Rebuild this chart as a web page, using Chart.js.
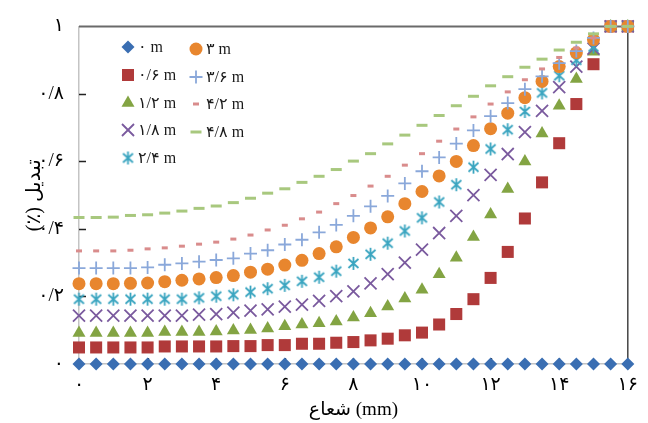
<!DOCTYPE html>
<html>
<head>
<meta charset="utf-8">
<script src="https://cdn.jsdelivr.net/npm/chart.js@4.4.1/dist/chart.umd.min.js"></script>
<style>
  html, body { margin: 0; padding: 0; background: #fff; }
  #wrap { width: 648px; height: 423px; }
</style>
</head>
<body>
<div id="wrap"><canvas id="myChart" width="648" height="423"></canvas></div>
<script>
// radius (mm), step 0.5
var radius = [0, 0.5, 1, 1.5, 2, 2.5, 3, 3.5, 4, 4.5, 5, 5.5, 6, 6.5, 7, 7.5, 8,
  8.5, 9, 9.5, 10, 10.5, 11, 11.5, 12, 12.5, 13, 13.5, 14, 14.5, 15, 15.5, 16];

var d00 = [0, 0, 0, 0, 0, 0, 0, 0, 0, 0, 0, 0, 0, 0, 0, 0, 0,
  0, 0, 0, 0, 0, 0, 0, 0, 0, 0, 0, 0, 0, 0, 0, 0];
var d06 = [0.049, 0.049, 0.049, 0.049, 0.049, 0.052, 0.052, 0.052, 0.052, 0.053, 0.053,
  0.056, 0.056, 0.060, 0.060, 0.063, 0.065, 0.070, 0.075, 0.085, 0.093,
  0.117, 0.148, 0.192, 0.255, 0.332, 0.431, 0.538, 0.654, 0.770, 0.888, 1, 1];
var d12 = [0.092, 0.092, 0.092, 0.092, 0.092, 0.095, 0.095, 0.095, 0.096, 0.099, 0.101,
  0.105, 0.112, 0.117, 0.121, 0.126, 0.138, 0.150, 0.170, 0.194, 0.220,
  0.266, 0.315, 0.376, 0.443, 0.518, 0.600, 0.683, 0.765, 0.844, 0.925, 1, 1];
var d18 = [0.143, 0.143, 0.143, 0.143, 0.143, 0.143, 0.143, 0.146, 0.148, 0.152, 0.158,
  0.162, 0.170, 0.176, 0.187, 0.201, 0.215, 0.239, 0.266, 0.300, 0.339,
  0.388, 0.439, 0.500, 0.560, 0.622, 0.687, 0.750, 0.820, 0.881, 0.934, 1, 1];
var d24 = [0.192, 0.192, 0.192, 0.192, 0.192, 0.192, 0.192, 0.196, 0.201, 0.205, 0.213,
  0.223, 0.233, 0.245, 0.257, 0.275, 0.298, 0.325, 0.358, 0.394, 0.433,
  0.480, 0.531, 0.583, 0.637, 0.694, 0.748, 0.803, 0.854, 0.900, 0.939, 1, 1];
var d30 = [0.238, 0.238, 0.238, 0.239, 0.240, 0.244, 0.248, 0.252, 0.256, 0.262, 0.272,
  0.281, 0.293, 0.307, 0.327, 0.347, 0.375, 0.403, 0.436, 0.475, 0.511,
  0.557, 0.600, 0.647, 0.697, 0.743, 0.789, 0.837, 0.881, 0.922, 0.961, 1, 1];
var d36 = [0.284, 0.284, 0.284, 0.284, 0.286, 0.294, 0.298, 0.303, 0.308, 0.313, 0.327,
  0.337, 0.354, 0.368, 0.390, 0.412, 0.439, 0.467, 0.498, 0.535, 0.571,
  0.612, 0.653, 0.692, 0.734, 0.773, 0.814, 0.852, 0.891, 0.927, 0.966, 1, 1];
var d42 = [0.335, 0.335, 0.335, 0.337, 0.341, 0.344, 0.349, 0.355, 0.361, 0.370, 0.382,
  0.397, 0.411, 0.430, 0.450, 0.475, 0.499, 0.527, 0.556, 0.589, 0.623,
  0.660, 0.696, 0.732, 0.770, 0.806, 0.842, 0.874, 0.908, 0.936, 0.966, 1, 1];
var d48 = [0.434, 0.434, 0.435, 0.440, 0.442, 0.447, 0.453, 0.461, 0.468, 0.478, 0.491,
  0.506, 0.519, 0.538, 0.556, 0.576, 0.601, 0.623, 0.652, 0.678, 0.707,
  0.736, 0.765, 0.793, 0.824, 0.851, 0.879, 0.903, 0.930, 0.953, 0.978, 1, 1];

var seriesNames = ['۰ m', '۰/۶ m', '۱/۲ m', '۱/۸ m', '۲/۴ m', '۳ m', '۳/۶ m', '۴/۲ m', '۴/۸ m'];
var xTickLabels = ['۰', '۲', '۴', '۶', '۸', '۱۰', '۱۲', '۱۴', '۱۶'];
var yTickLabels = ['۰', '۰/۲', '۰/۴', '۰/۶', '۰/۸', '۱'];

var FONT = "'Liberation Serif', 'DejaVu Sans', serif";

function makeAsterisk(color) {
  var c = document.createElement('canvas');
  c.width = 15;
  c.height = 15;
  var g = c.getContext('2d');
  g.strokeStyle = color;
  g.lineWidth = 1.8;
  g.beginPath();
  g.moveTo(7.5, 1); g.lineTo(7.5, 14);
  g.moveTo(2.5, 3); g.lineTo(12.5, 12);
  g.moveTo(12.5, 3); g.lineTo(2.5, 12);
  g.stroke();
  return c;
}

var styles = [
  { color: '#3A6EB2', pointStyle: 'rectRot', r: 6.5, bw: 0 },
  { color: '#B03A3A', pointStyle: 'rect', r: 8.5, bw: 0 },
  { color: '#83A443', pointStyle: 'triangle', r: 7.5, bw: 0 },
  { color: '#7A5A9E', pointStyle: 'crossRot', r: 8.5, bw: 1.8 },
  { color: '#3AA5C0', pointStyle: makeAsterisk('#3AA5C0'), r: 7, bw: 0 },
  { color: '#E8862E', pointStyle: 'circle', r: 6.5, bw: 0 },
  { color: '#8AA8DA', pointStyle: 'cross', r: 6.5, bw: 1.8 },
  { color: '#D98C8C', pointStyle: 'line', r: 3, bw: 3 },
  { color: '#A8C87E', pointStyle: 'line', r: 5.5, bw: 3 }
];

var allSeries = [d00, d06, d12, d18, d24, d30, d36, d42, d48];

function toPoints(ys) {
  return radius.map(function (x, i) { return { x: x, y: ys[i] }; });
}

var datasets = [];
for (var i = 0; i < allSeries.length; i++) {
  var s = styles[i];
  datasets.push({
    label: seriesNames[i],
    data: toPoints(allSeries[i]),
    showLine: false,
    pointStyle: s.pointStyle,
    pointRadius: s.r,
    pointHoverRadius: s.r,
    pointBackgroundColor: s.color,
    pointBorderColor: s.color,
    pointBorderWidth: s.bw,
    backgroundColor: s.color,
    borderColor: s.color,
    clip: false,
    order: allSeries.length - i  // later series drawn on top
  });
}

// frame on top/right and inside tick marks
var framePlugin = {
  id: 'frame',
  beforeDatasetsDraw: function (chart) {
    var ctx = chart.ctx, a = chart.chartArea;
    var xs = chart.scales.x, ys = chart.scales.y;
    ctx.save();
    ctx.strokeStyle = '#6a6a6a';
    ctx.lineWidth = 2;
    ctx.beginPath();
    ctx.moveTo(a.left, a.top);
    ctx.lineTo(a.right, a.top);
    ctx.stroke();
    ctx.strokeStyle = '#444';
    ctx.lineWidth = 1.5;
    ctx.beginPath();
    ctx.moveTo(a.right, a.top);
    ctx.lineTo(a.right, a.bottom);
    ctx.stroke();
    ctx.strokeStyle = '#222';
    ctx.lineWidth = 1.3;
    ctx.beginPath();
    xs.ticks.forEach(function (t) {
      if (t.value <= 0 || t.value >= 16) return;
      var px = Math.round(xs.getPixelForValue(t.value)) + 0.5;
      ctx.moveTo(px, a.bottom);
      ctx.lineTo(px, a.bottom - 6);
    });
    ys.ticks.forEach(function (t) {
      if (t.value <= 0 || t.value >= 1) return;
      var py = Math.round(ys.getPixelForValue(t.value)) + 0.5;
      ctx.moveTo(a.left, py);
      ctx.lineTo(a.left + 7, py);
    });
    ctx.stroke();
    ctx.restore();
  }
};

// two-column legend inside the plot
var legendPos = [[128, 47], [128, 75], [128, 103], [128, 130], [128, 158],
  [196, 49], [196, 77], [196, 104], [196, 132]];

var legendPlugin = {
  id: 'innerLegend',
  afterDraw: function (chart) {
    var ctx = chart.ctx;
    ctx.save();
    chart.data.datasets.forEach(function (ds, i) {
      var p = legendPos[i];
      ctx.fillStyle = ds.pointBackgroundColor;
      ctx.strokeStyle = ds.pointBorderColor;
      ctx.lineWidth = ds.pointBorderWidth;
      Chart.helpers.drawPoint(ctx, {
        pointStyle: ds.pointStyle,
        radius: ds.pointRadius,
        borderWidth: ds.pointBorderWidth,
        rotation: 0
      }, p[0], p[1]);
      ctx.fillStyle = '#1a1a1a';
      ctx.font = '16px ' + FONT;
      ctx.textAlign = 'left';
      ctx.textBaseline = 'middle';
      ctx.fillText(ds.label, p[0] + 10, p[1] + 1);
    });
    ctx.restore();
  }
};

var ctx = document.getElementById('myChart');
new Chart(ctx, {
  type: 'scatter',
  data: { datasets: datasets },
  options: {
    responsive: false,
    animation: false,
    devicePixelRatio: 1,
    layout: { padding: { top: 19, right: 12, left: 0, bottom: 0 } },
    plugins: {
      legend: { display: false },
      tooltip: { enabled: false }
    },
    scales: {
      x: {
        type: 'linear',
        min: 0,
        max: 16,
        grid: { display: false, drawTicks: false },
        border: { display: true, color: '#c4c4c4', width: 1.5 },
        ticks: {
          stepSize: 2,
          padding: 10,
          color: '#000',
          maxRotation: 0,
          font: { family: FONT, size: 19 },
          callback: function (v) { return xTickLabels[Math.round(v / 2)]; }
        },
        title: {
          display: true,
          text: 'شعاع (mm)',
          color: '#000',
          font: { family: FONT, size: 19 },
          padding: { top: 0, bottom: 2 }
        },
        afterFit: function (s) { s.height = 59; }
      },
      y: {
        min: 0,
        max: 1,
        grid: { display: false, drawTicks: false },
        border: { display: true, color: '#c4c4c4', width: 1.5 },
        ticks: {
          stepSize: 0.2,
          padding: 15,
          color: '#000',
          font: { family: FONT, size: 19 },
          callback: function (v) { return yTickLabels[Math.round(v / 0.2)]; }
        },
        title: {
          display: true,
          text: '(٪) تبدیل',
          color: '#000',
          font: { family: FONT, size: 20 },
          padding: { top: 23, bottom: 0 }
        },
        afterFit: function (s) { s.width = 79; }
      }
    }
  },
  plugins: [framePlugin, legendPlugin]
});
</script>
</body>
</html>
